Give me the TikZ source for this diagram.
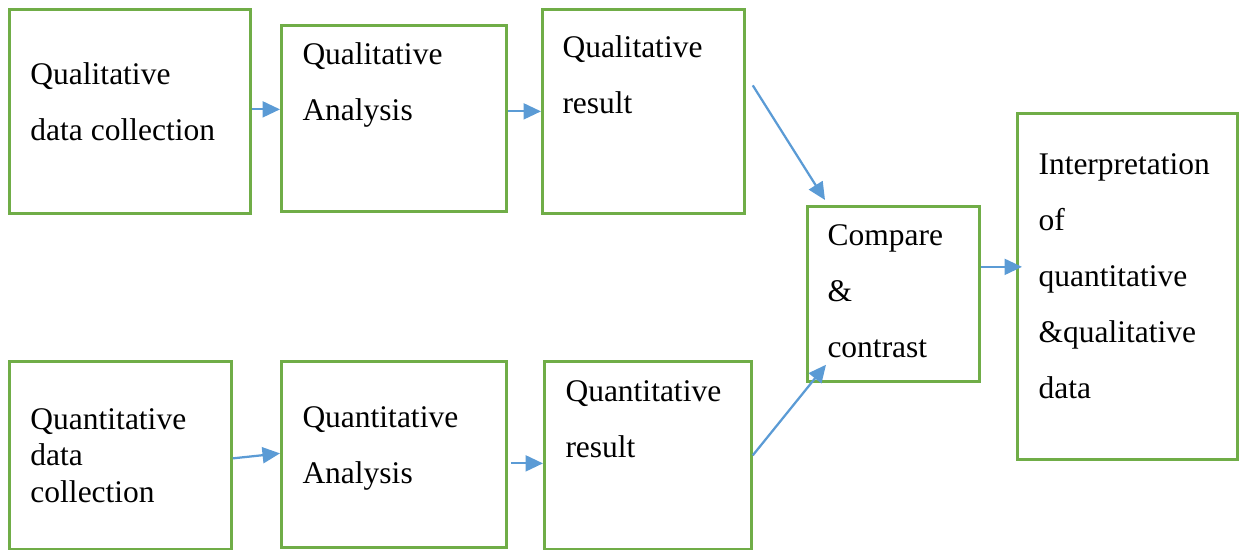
\documentclass[tikz,border=0pt]{standalone}
\usepackage{fontspec}
\setmainfont{Liberation Serif}
\usetikzlibrary{arrows.meta,calc}
\definecolor{boxgreen}{RGB}{112,173,71}
\definecolor{flowblue}{RGB}{91,155,213}

\begin{document}
\begin{tikzpicture}[x=0.4pt,y=-0.4pt,
  box/.style={draw=boxgreen,line width=1.1pt,anchor=north west,inner sep=0pt},
  txt/.style={anchor=north west,inner sep=0pt,align=left,font=\fontsize{12.6}{22.4}\selectfont},
  flow/.style={draw=flowblue,line width=0.9pt,-{Triangle[length=7pt,width=6.4pt]}}]
  \useasboundingbox (0,0) rectangle (1239,550);
  % boxes: name/x/y/width/height
  \foreach \name/\x/\y/\w/\h in {qldc/8/8/241/204, qlan/280/24/225/186, qlres/541/8/202/204,
      qndc/8/360/222/188, qnan/280/360/225/186, qnres/543/360/207/188,
      cmp/806/205/172/175, interp/1016/112/220/346}
    \node[box,minimum width=\w*0.4pt,minimum height=\h*0.4pt] (\name) at (\x,\y) {};
  % texts
  \node[txt] (qldct) at (30,62) {Qualitative\\data collection};
  \node[txt] (qlant) at (302,42) {Qualitative\\Analysis};
  \node[txt] (qlrest) at (562,35) {Qualitative\\result};
  \node[txt,font=\fontsize{12.6}{14.6}\selectfont] (qndct) at (30,408) {Quantitative\\data\\collection};
  \node[txt] (qnant) at (302,406) {Quantitative\\Analysis};
  \node[txt] (qnrest) at (565,380) {Quantitative\\result};
  \node[txt] (cmpt) at (827,224) {Compare\\\&\\contrast};
  \node[txt] (interpt) at (1038,153) {Interpretation\\of\\quantitative\\\&qualitative\\data};
  % arrows
  \coordinate (qldcout) at ($(qldc.east)+(0,-2)$);
  \draw[flow] (qldcout) -- (qldcout -| qlan.west);
  \draw[flow] (qlan.east |- qlres.west) -- (qlres.west);
  \draw[flow] ($(qlres.east)+(7,-26)$) -- ($(cmp.north west)+(19,-5)$);
  \draw[flow] (qnres.east) -- ($(cmp.south west)+(20,-18)$);
  \coordinate (cmpout) at ($(cmp.east)+(0,-27)$);
  \draw[flow] (cmpout) -- ($(cmpout -| interp.west)+(6,0)$);
  \draw[flow] ($(qndc.east)+(0,3)$) -- ($(qnan.west)+(0,-1)$);
  \coordinate (qnanout) at ($(qnan.east)+(3,9)$);
  \draw[flow] (qnanout) -- (qnanout -| qnres.west);
\end{tikzpicture}
\end{document}
